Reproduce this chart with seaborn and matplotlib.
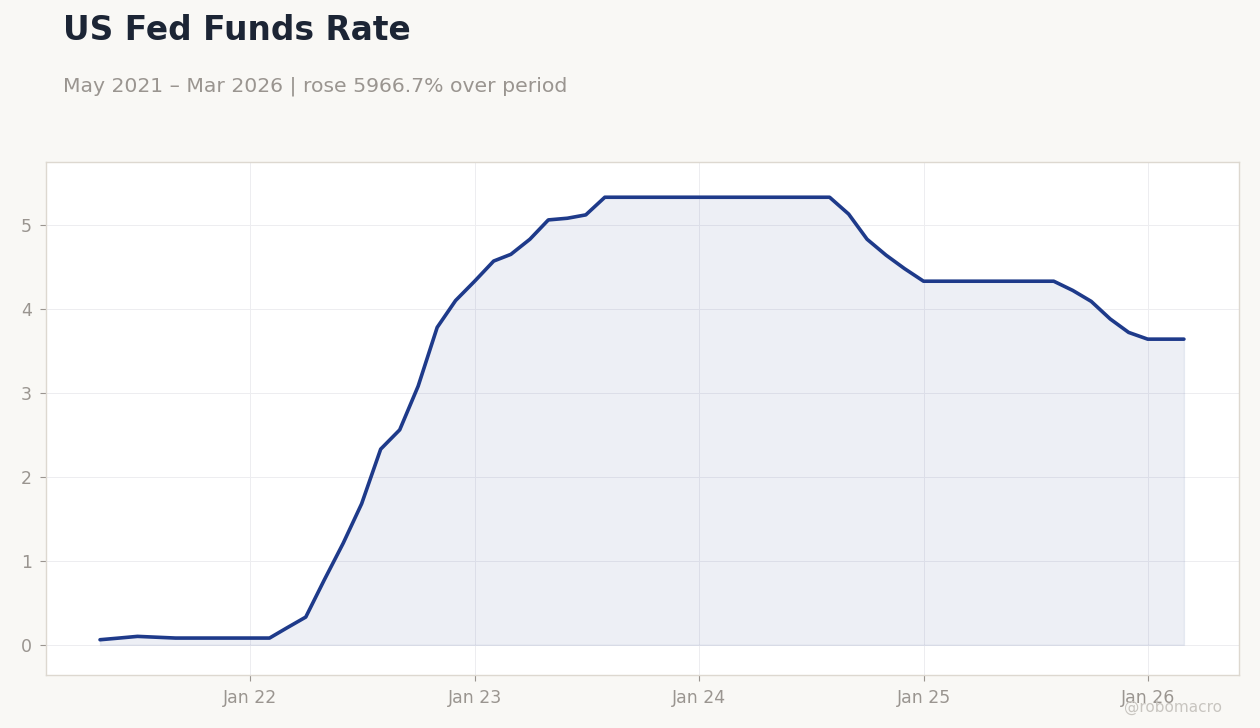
import pandas as pd
import matplotlib.pyplot as plt
import seaborn as sns

# --- data: monthly effective fed funds rate (%) ---
start_month = '2021-05-01'
end_month = '2026-03-01'
rates = [
    0.06, 0.08, 0.10, 0.09, 0.08, 0.08, 0.08, 0.08,                      # 2021 May-Dec
    0.08, 0.08, 0.20, 0.33, 0.77, 1.21, 1.68, 2.33, 2.56, 3.08, 3.78, 4.10,  # 2022
    4.33, 4.57, 4.65, 4.83, 5.06, 5.08, 5.12, 5.33, 5.33, 5.33, 5.33, 5.33,  # 2023
    5.33, 5.33, 5.33, 5.33, 5.33, 5.33, 5.33, 5.33, 5.13, 4.83, 4.64, 4.48,  # 2024
    4.33, 4.33, 4.33, 4.33, 4.33, 4.33, 4.33, 4.33, 4.22, 4.09, 3.88, 3.72,  # 2025
    3.64, 3.64, 3.64,                                                     # 2026 Jan-Mar
]
tick_dates = ['2022-01-01', '2023-01-01', '2024-01-01', '2025-01-01', '2026-01-01']
tick_labels = ['Jan 22', 'Jan 23', 'Jan 24', 'Jan 25', 'Jan 26']

months = pd.date_range(start_month, end_month, freq='MS')
df = pd.DataFrame({'date': months, 'rate': rates})

title = 'US Fed Funds Rate'
pct = (rates[-1] / rates[0] - 1) * 100
subtitle = f'May 2021 \u2013 Mar 2026 | rose {pct:.1f}% over period'

# --- style ---
bg = '#f9f8f5'
line_col = '#1e3a8a'
txt_grey = '#9a9590'

sns.set_theme(style='white')
plt.rcParams['font.family'] = ['DejaVu Sans']

fig = plt.figure(figsize=(12.6, 7.28), dpi=100, facecolor=bg)
ax = fig.add_axes([0.0365, 0.0728, 0.9465, 0.7047])
ax.set_facecolor('white')

ax.fill_between(df['date'], df['rate'], 0, color=line_col, alpha=0.08, lw=1)
sns.lineplot(data=df, x='date', y='rate', ax=ax, color=line_col, linewidth=2.6)

ax.set_xlim(pd.Timestamp('2021-02-02'), pd.Timestamp('2026-05-29'))
ax.set_ylim(-0.36, 5.75)
ax.set_xticks(pd.to_datetime(tick_dates))
ax.set_xticklabels(tick_labels)
ax.set_yticks([0, 1, 2, 3, 4, 5])
ax.set_xlabel('')
ax.set_ylabel('')

# faint grid, light frame
ax.grid(True, color='#ededf0', linewidth=0.7)
ax.set_axisbelow(True)
for s in ax.spines.values():
    s.set_color('#ddd8d0')
    s.set_linewidth(1)
ax.tick_params(axis='both', colors=txt_grey, labelsize=12.5, length=4, width=0.8,
               labelcolor=txt_grey, bottom=True, left=True, pad=6)

fig.text(0.05, 0.945, title, fontsize=23.7, fontweight='bold', color='#1c2535')
fig.text(0.05, 0.875, subtitle, fontsize=14.7, color=txt_grey)
fig.text(0.97, 0.022, '@robomacro', fontsize=11, color='#c8c5c0', ha='right')

fig.savefig('out.png', dpi=100, facecolor=bg)
